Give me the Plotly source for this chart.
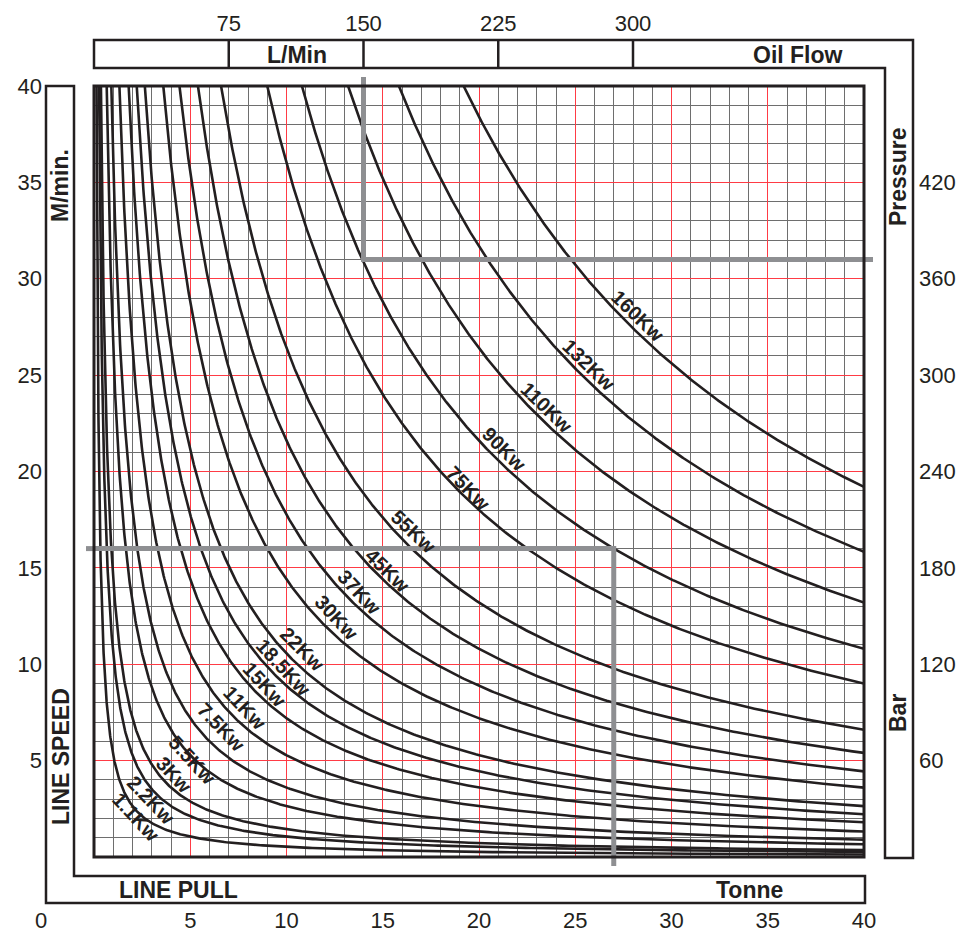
import numpy as np
import plotly.graph_objects as go

# motor sizes printed on the curves
power_kw = [1.1, 2.2, 3, 5.5, 7.5, 11, 15, 18.5, 22, 30, 37, 45, 55, 75, 90, 110, 132, 160]
curve_names = ['1.1Kw', '2.2Kw', '3Kw', '5.5Kw', '7.5Kw', '11Kw', '15Kw', '18.5Kw', '22Kw',
               '30Kw', '37Kw', '45Kw', '55Kw', '75Kw', '90Kw', '110Kw', '132Kw', '160Kw']

# line speed (m/min) per kW at a 40 tonne pull (160Kw -> ~19.2)
speed_per_kw_at_40t = 0.12

pull_ticks = [5, 10, 15, 20, 25, 30, 35, 40]          # Tonne
speed_ticks = [5, 10, 15, 20, 25, 30, 35, 40]         # M/min.
flow_ticks = [75, 150, 225, 300]                      # L/Min
pressure_ticks = [60, 120, 180, 240, 300, 360, 420]   # Bar

pull_max = 40
speed_max = 40
flow_max = 40 * 75 / 7     # 75 L/Min sits over 7 tonne
pressure_max = 480         # 60 bar per 5 m/min

# worked example drawn in grey
example_speed = 16
example_pull = 27
example_flow = 150
example_pressure = 372

# label placement on the curves (tonne, m/min, angle)
label_pos = [(2.18, 2.08, 47), (2.96, 2.96, 46), (4.16, 4.25, 47), (5.09, 5.03, 47),
             (6.60, 6.74, 46), (7.84, 7.73, 47), (8.88, 8.92, 47), (9.82, 9.86, 47),
             (10.81, 10.79, 45), (12.62, 12.40, 47), (13.77, 13.75, 47), (15.27, 14.84, 44),
             (16.62, 16.86, 43), (19.43, 19.14, 46), (21.30, 21.17, 45), (23.53, 23.29, 44),
             (25.71, 25.53, 44), (28.26, 28.07, 44)]

# page body adds 8px, so the figure is laid out 8px up/left of the screen positions
W, H = 967, 932
OFF = 8
L, R, T, B = 94, 864, 86, 857


def px(x):
    return (x - L) / (R - L)


def py(y):
    return (B - y) / (B - T)


INK = '#231f20'
GREY = '#8e8f92'
FONT = 'Liberation Sans'

fig = go.Figure()

for kw, name in zip(power_kw, curve_names):
    c = speed_per_kw_at_40t * pull_max * kw
    pull = np.geomspace(c / speed_max, pull_max, 400)
    fig.add_trace(go.Scatter(x=pull, y=c / pull, mode='lines', name=name,
                             line=dict(color=INK, width=2.6), hoverinfo='skip'))

fig.add_trace(go.Scatter(x=[0, example_pull, example_pull], y=[example_speed, example_speed, 0],
                         mode='lines', line=dict(color=GREY, width=5), hoverinfo='skip'))
fig.add_trace(go.Scatter(x=[example_flow, example_flow, flow_max], y=[pressure_max, example_pressure, example_pressure],
                         xaxis='x2', yaxis='y2', mode='lines', line=dict(color=GREY, width=5), hoverinfo='skip'))

shapes = []
# grey stubs running past the grid
shapes.append(dict(type='line', xref='paper', yref='y', x0=px(86), x1=0, y0=example_speed, y1=example_speed,
                   line=dict(color=GREY, width=5)))
shapes.append(dict(type='line', xref='x', yref='paper', x0=example_pull, x1=example_pull, y0=py(866), y1=0,
                   line=dict(color=GREY, width=5)))
shapes.append(dict(type='line', xref='x2', yref='paper', x0=example_flow, x1=example_flow, y0=1, y1=py(77),
                   line=dict(color=GREY, width=5)))
shapes.append(dict(type='line', xref='paper', yref='y2', x0=1, x1=px(873), y0=example_pressure, y1=example_pressure,
                   line=dict(color=GREY, width=5)))

# grid border
shapes.append(dict(type='rect', xref='paper', yref='paper', x0=0, x1=1, y0=0, y1=1,
                   line=dict(color=INK, width=3)))


# L-shaped label frames
def frame(points):
    path = 'M ' + ' L '.join('%.5f,%.5f' % (px(a), py(b)) for a, b in points) + ' Z'
    return dict(type='path', xref='paper', yref='paper', path=path, line=dict(color=INK, width=2.5))


shapes.append(frame([(94, 40), (913, 40), (913, 858), (885, 858), (885, 68), (94, 68)]))
shapes.append(frame([(46, 86), (46, 903), (865, 903), (865, 876), (74, 876), (74, 86)]))
for f in flow_ticks:
    shapes.append(dict(type='line', xref='x2', yref='paper', x0=f, x1=f, y0=py(68), y1=py(40),
                       line=dict(color=INK, width=2.5)))

annotations = []
for name, (t, v, ang) in zip(curve_names, label_pos):
    annotations.append(dict(x=t, y=v, xref='x', yref='y', text='<b>%s</b>' % name, showarrow=False,
                            xanchor='center', yanchor='middle', textangle=ang,
                            font=dict(family=FONT, size=20, color=INK)))

titles = [('L/Min', 297, 55, 0), ('Oil Flow', 798, 55, 0), ('Pressure', 898, 177, -90),
          ('Bar', 898, 713, -90), ('M/min.', 60, 186, -90), ('LINE SPEED', 61, 757, -90),
          ('LINE PULL', 178, 890, 0), ('Tonne', 749, 890, 0)]
for txt, x, y, ang in titles:
    annotations.append(dict(x=px(x), y=py(y), xref='paper', yref='paper', text='<b>%s</b>' % txt,
                            showarrow=False, xanchor='center', yanchor='middle', textangle=ang,
                            font=dict(family=FONT, size=23, color=INK)))
annotations.append(dict(x=px(41), y=py(920), xref='paper', yref='paper', text='0', showarrow=False,
                        xanchor='center', yanchor='middle', font=dict(family=FONT, size=22, color=INK)))

tickfont = dict(family=FONT, size=22, color=INK)
grid_minor = dict(tickmode='linear', tick0=0, dtick=1, showgrid=True, gridcolor='#6e6e6e', gridwidth=1)

fig.update_layout(
    width=W, height=H,
    margin=dict(l=L - OFF, r=W - R + OFF, t=T - OFF, b=H - B + OFF, autoexpand=False),
    paper_bgcolor='white', plot_bgcolor='white',
    showlegend=False,
    shapes=shapes,
    annotations=annotations,
    xaxis=dict(range=[0, pull_max], tickmode='array', tickvals=pull_ticks, ticks='',
               ticklabelstandoff=48, tickfont=tickfont, showgrid=True, gridcolor='#ff3b45', gridwidth=1,
               minor=grid_minor, zeroline=False, showline=False, fixedrange=True),
    yaxis=dict(range=[0, speed_max], tickmode='array', tickvals=speed_ticks, ticks='',
               ticklabelstandoff=51, tickfont=tickfont, showgrid=True, gridcolor='#ff3b45', gridwidth=1,
               minor=grid_minor, zeroline=False, showline=False, fixedrange=True),
    xaxis2=dict(range=[0, flow_max], overlaying='x', side='top', anchor='y', tickmode='array',
                tickvals=flow_ticks, ticks='', ticklabelstandoff=50, tickfont=tickfont,
                showgrid=False, zeroline=False, showline=False, fixedrange=True),
    yaxis2=dict(range=[0, pressure_max], overlaying='y', side='right', anchor='x', tickmode='array',
                tickvals=pressure_ticks, ticks='', ticklabelstandoff=54, tickfont=tickfont,
                showgrid=False, zeroline=False, showline=False, fixedrange=True),
)

fig.write_html('out.html')
